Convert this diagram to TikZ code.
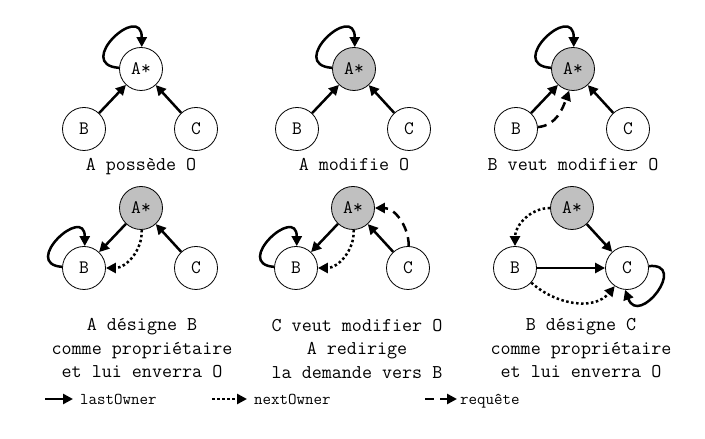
\documentclass[tikz,border=0pt]{standalone}
\usepackage{fontspec}
\usetikzlibrary{arrows.meta, positioning}
\definecolor{mygray}{RGB}{192,192,192}
\tikzset{
  etat/.style={circle, draw=black, fill=white, minimum size=43pt,
    inner sep=0pt, line width=0.8pt, font=\ttfamily\fontsize{19}{22}\selectfont},
  proprio/.style={etat, fill=mygray},
  lastarrow/.style={-{Triangle[length=10pt, width=10pt]}, line width=2.5pt},
  nextarrow/.style={lastarrow, dash pattern=on 2.5pt off 2.5pt},
  reqarrow/.style={lastarrow, dash pattern=on 9pt off 6pt},
  legende/.style={font=\ttfamily\fontsize{16.5}{18}\selectfont, anchor=base west, inner sep=0pt}
}

\begin{document}
\begin{tikzpicture}[x=1pt, y=1pt,
  titre/.style={font=\ttfamily\fontsize{19.5}{23.5}\selectfont, align=center}
]
\useasboundingbox (0,0) rectangle (705,439);
% the six states
\foreach \p/\x/\y/\s in {1/141/370/etat, 2/354/370/proprio, 3/573/370/proprio,
                         4/141/231/proprio, 5/353/231/proprio, 6/572/231/proprio} {
  \node[\s] (A\p) at (\x,\y) {A*};
  \node[etat] (B\p) at (\x-57,\y-60) {B};
  \node[etat] (C\p) at (\x+55,\y-60) {C};
}
% A possede O
\draw[lastarrow] (B1) -- (A1);
\draw[lastarrow] (C1) -- (A1);
\draw[lastarrow] (A1.177) .. controls +(176:46) and +(90:46) .. (A1.88);
\node[titre, anchor=base] (t1) at (141,268) {A possède O};
% A modifie O
\draw[lastarrow] (B2) -- (A2);
\draw[lastarrow] (C2) -- (A2);
\draw[lastarrow] (A2.177) .. controls +(176:46) and +(90:46) .. (A2.88);
\node[titre, anchor=base] (t2) at (354,268) {A modifie O};
% B veut modifier O
\draw[lastarrow] (B3) -- (A3);
\draw[lastarrow] (C3) -- (A3);
\draw[lastarrow] (A3.177) .. controls +(176:46) and +(90:46) .. (A3.88);
\draw[reqarrow] (B3.5) to[out=5, in=-110] (A3.-100);
\node[titre, anchor=base] (t3) at (573,268) {B veut modifier O};
% A designe B
\draw[lastarrow] (A4) -- (B4);
\draw[lastarrow] (C4) -- (A4);
\draw[lastarrow] (B4.177) .. controls +(176:42) and +(90:42) .. (B4.88);
\draw[nextarrow] (A4.-88) to[out=-88, in=0] (B4.0);
\node[titre] (t4) at (142,90.5) {A désigne B\\comme propriétaire\\et lui enverra O};
% C veut modifier O
\draw[lastarrow] (A5) -- (B5);
\draw[lastarrow] (C5) -- (A5);
\draw[lastarrow] (B5.177) .. controls +(176:42) and +(90:42) .. (B5.88);
\draw[nextarrow] (A5.-88) to[out=-88, in=0] (B5.0);
\draw[reqarrow] (C5.88) to[out=90, in=0] (A5.0);
\node[titre] (t5) at (357,90.5) {C veut modifier O\\A redirige\\la demande vers B};
% B designe C
\draw[lastarrow] (A6) -- (C6);
\draw[lastarrow] (B6) -- (C6);
\draw[lastarrow] (C6.5) .. controls +(5:40) and +(-70:40) .. (C6.-95);
\draw[nextarrow] (A6.180) to[out=180, in=90] (B6.90);
\draw[nextarrow] (B6.-42) to[out=-42, in=-130] (C6.-124);
\node[titre] (t6) at (581,90.5) {B désigne C\\comme propriétaire\\et lui enverra O};
% legend
\coordinate (leg1) at (45,40);
\coordinate (leg2) at (212,40);
\coordinate (leg3) at (425,40);
\draw[lastarrow] (leg1) -- ++(28,0);
\draw[nextarrow] (leg2) -- ++(35,0);
\draw[reqarrow] (leg3) -- ++(32,0);
\node[legende] (l1) at (80,34) {lastOwner};
\node[legende] (l2) at (254,34) {nextOwner};
\node[legende] (l3) at (460,34) {requête};
\end{tikzpicture}
\end{document}
